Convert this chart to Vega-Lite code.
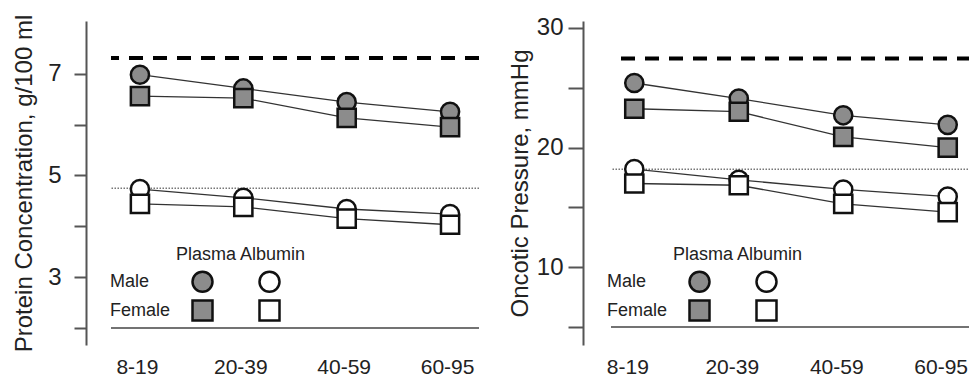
{
  "$schema": "https://vega.github.io/schema/vega-lite/v6.json",
  "background": "white",
  "padding": {"left": 12, "top": 14, "right": 0, "bottom": 0},
  "spacing": 132,
  "bounds": "flush",
  "config": {
    "view": {"stroke": null},
    "font": "Liberation Sans",
    "axis": {"grid": false, "labelFont": "Liberation Sans", "titleFont": "Liberation Sans", "labelColor": "#222", "titleColor": "#222", "titleFontWeight": "normal"},
    "legend": {
      "orient": "none", "legendY": 225, "direction": "horizontal",
      "columns": 2, "columnPadding": -41, "rowPadding": -2,
      "symbolSize": 400, "symbolStrokeColor": "#111", "symbolStrokeWidth": 2.5, "symbolOffset": 15,
      "labelFont": "Liberation Sans", "labelFontSize": 18, "labelColor": "#222", "labelAlign": "left", "labelOffset": -104,
      "titleFont": "Liberation Sans", "titleFontSize": 18, "titleFontWeight": "normal", "titleColor": "#222", "titlePadding": 6, "titleAnchor": "start"
    }
  },
  "datasets": {
    "protein": [
      {"age": "8-19", "key": "Male Plasma", "value": 6.98},
      {"age": "20-39", "key": "Male Plasma", "value": 6.71},
      {"age": "40-59", "key": "Male Plasma", "value": 6.44},
      {"age": "60-95", "key": "Male Plasma", "value": 6.25},
      {"age": "8-19", "key": "Female Plasma", "value": 6.56},
      {"age": "20-39", "key": "Female Plasma", "value": 6.52},
      {"age": "40-59", "key": "Female Plasma", "value": 6.13},
      {"age": "60-95", "key": "Female Plasma", "value": 5.95},
      {"age": "8-19", "key": "Male Albumin", "value": 4.73},
      {"age": "20-39", "key": "Male Albumin", "value": 4.56},
      {"age": "40-59", "key": "Male Albumin", "value": 4.34},
      {"age": "60-95", "key": "Male Albumin", "value": 4.24},
      {"age": "8-19", "key": "Female Albumin", "value": 4.44},
      {"age": "20-39", "key": "Female Albumin", "value": 4.38},
      {"age": "40-59", "key": "Female Albumin", "value": 4.15},
      {"age": "60-95", "key": "Female Albumin", "value": 4.03}
    ],
    "oncotic": [
      {"age": "8-19", "key": "Male Plasma", "value": 25.4},
      {"age": "20-39", "key": "Male Plasma", "value": 24.1},
      {"age": "40-59", "key": "Male Plasma", "value": 22.7},
      {"age": "60-95", "key": "Male Plasma", "value": 21.9},
      {"age": "8-19", "key": "Female Plasma", "value": 23.25},
      {"age": "20-39", "key": "Female Plasma", "value": 23.0},
      {"age": "40-59", "key": "Female Plasma", "value": 20.9},
      {"age": "60-95", "key": "Female Plasma", "value": 20.0},
      {"age": "8-19", "key": "Male Albumin", "value": 18.2},
      {"age": "20-39", "key": "Male Albumin", "value": 17.3},
      {"age": "40-59", "key": "Male Albumin", "value": 16.5},
      {"age": "60-95", "key": "Male Albumin", "value": 15.9},
      {"age": "8-19", "key": "Female Albumin", "value": 17.0},
      {"age": "20-39", "key": "Female Albumin", "value": 16.85},
      {"age": "40-59", "key": "Female Albumin", "value": 15.3},
      {"age": "60-95", "key": "Female Albumin", "value": 14.6}
    ],
    "proteinRef": [
      {"line": "Plasma reference", "value": 7.31},
      {"line": "Albumin reference", "value": 4.75},
      {"line": "Baseline", "value": 2}
    ],
    "oncoticRef": [
      {"line": "Plasma reference", "value": 27.45},
      {"line": "Albumin reference", "value": 18.2},
      {"line": "Baseline", "value": 5}
    ]
  },
  "resolve": {"scale": {"x": "independent", "y": "independent"}, "legend": {"fill": "independent", "shape": "independent", "stroke": "independent"}},
  "hconcat": [
    {
      "width": 368,
      "height": 324,
      "layer": [
        {
          "data": {"name": "proteinRef"},
          "transform": [{"filter": "datum.line == 'Plasma reference'"}],
          "mark": {"type": "rule", "strokeDash": [14, 10], "strokeWidth": 4, "color": "#000"},
          "encoding": {"y": {"field": "value", "type": "quantitative", "scale": {"domain": [1.666, 8.036], "nice": false, "zero": false}}}
        },
        {
          "data": {"name": "proteinRef"},
          "transform": [{"filter": "datum.line == 'Albumin reference'"}],
          "mark": {"type": "rule", "strokeDash": [1.5, 1.5], "strokeWidth": 1.5, "color": "#777"},
          "encoding": {"y": {"field": "value", "type": "quantitative"}}
        },
        {
          "data": {"name": "proteinRef"},
          "transform": [{"filter": "datum.line == 'Baseline'"}],
          "mark": {"type": "rule", "strokeWidth": 1.5, "color": "#444"},
          "encoding": {"y": {"field": "value", "type": "quantitative"}}
        },
        {
          "data": {"name": "protein"},
          "mark": {"type": "line", "color": "#333", "strokeWidth": 1.3},
          "encoding": {
            "x": {"field": "age", "type": "ordinal"},
            "y": {"field": "value", "type": "quantitative"},
            "detail": {"field": "key"}
          }
        },
        {
          "data": {"name": "protein"},
          "mark": {"type": "point", "filled": true, "opacity": 1, "size": 330, "strokeWidth": 2.5},
          "encoding": {
            "x": {"field": "age", "type": "ordinal", "scale": {"type": "point", "domain": ["8-19", "20-39", "40-59", "60-95"], "padding": 0.28},
                  "axis": {"title": null, "domain": false, "ticks": false, "labelAngle": 0, "labelAlign": "center", "labelBaseline": "top", "labelFontSize": 21, "labelPadding": 11, "labelOffset": -3}},
            "y": {"field": "value", "type": "quantitative",
                  "axis": {"title": "Protein Concentration, g/100 ml", "values": [2, 3, 4, 5, 6, 7], "labelExpr": "datum.value % 2 == 1 ? datum.label : ''",
                           "offset": 25, "tickSize": 12, "tickWidth": 2, "tickColor": "#555", "domainColor": "#555", "domainWidth": 2,
                           "labelFontSize": 24, "labelPadding": 13, "titleFontSize": 24, "titlePadding": 11}},
            "shape": {"field": "key", "type": "nominal", "scale": {"domain": ["Male Plasma", "Male Albumin", "Female Plasma", "Female Albumin"], "range": ["circle", "circle", "square", "square"]},
                      "legend": {"title": "Plasma Albumin", "legendX": 65, "labelExpr": "datum.value == 'Male Plasma' ? 'Male' : datum.value == 'Female Plasma' ? 'Female' : ''"}},
            "fill": {"field": "key", "type": "nominal", "scale": {"domain": ["Male Plasma", "Male Albumin", "Female Plasma", "Female Albumin"], "range": ["#8c8c8c", "#ffffff", "#8c8c8c", "#ffffff"]},
                     "legend": {"title": "Plasma Albumin", "legendX": 65, "labelExpr": "datum.value == 'Male Plasma' ? 'Male' : datum.value == 'Female Plasma' ? 'Female' : ''"}},
            "stroke": {"field": "key", "type": "nominal", "scale": {"domain": ["Male Plasma", "Male Albumin", "Female Plasma", "Female Albumin"], "range": ["#111111", "#111111", "#111111", "#111111"]},
                     "legend": {"title": "Plasma Albumin", "legendX": 65, "labelExpr": "datum.value == 'Male Plasma' ? 'Male' : datum.value == 'Female Plasma' ? 'Female' : ''"}}
          }
        }
      ]
    },
    {
      "width": 360,
      "height": 324,
      "layer": [
        {
          "data": {"name": "oncoticRef"},
          "transform": [{"filter": "datum.line == 'Plasma reference'"}],
          "mark": {"type": "rule", "strokeDash": [14, 10], "strokeWidth": 4, "color": "#000"},
          "encoding": {"y": {"field": "value", "type": "quantitative", "scale": {"domain": [3.495, 30.585], "nice": false, "zero": false}}}
        },
        {
          "data": {"name": "oncoticRef"},
          "transform": [{"filter": "datum.line == 'Albumin reference'"}],
          "mark": {"type": "rule", "strokeDash": [1.5, 1.5], "strokeWidth": 1.5, "color": "#777"},
          "encoding": {"y": {"field": "value", "type": "quantitative"}}
        },
        {
          "data": {"name": "oncoticRef"},
          "transform": [{"filter": "datum.line == 'Baseline'"}],
          "mark": {"type": "rule", "strokeWidth": 1.5, "color": "#444"},
          "encoding": {"y": {"field": "value", "type": "quantitative"}}
        },
        {
          "data": {"name": "oncotic"},
          "mark": {"type": "line", "color": "#333", "strokeWidth": 1.3},
          "encoding": {
            "x": {"field": "age", "type": "ordinal"},
            "y": {"field": "value", "type": "quantitative"},
            "detail": {"field": "key"}
          }
        },
        {
          "data": {"name": "oncotic"},
          "mark": {"type": "point", "filled": true, "opacity": 1, "size": 330, "strokeWidth": 2.5},
          "encoding": {
            "x": {"field": "age", "type": "ordinal", "scale": {"type": "point", "domain": ["8-19", "20-39", "40-59", "60-95"], "padding": 0.223},
                  "axis": {"title": null, "domain": false, "ticks": false, "labelAngle": 0, "labelAlign": "center", "labelBaseline": "top", "labelFontSize": 21, "labelPadding": 11, "labelOffset": -7}},
            "y": {"field": "value", "type": "quantitative",
                  "axis": {"title": "Oncotic Pressure, mmHg", "values": [5, 10, 15, 20, 25, 30], "labelExpr": "datum.value % 10 == 0 ? datum.label : ''",
                           "offset": 28, "tickSize": 15, "tickWidth": 2, "tickColor": "#555", "domainColor": "#555", "domainWidth": 2,
                           "labelFontSize": 24, "labelPadding": 5, "titleFontSize": 24, "titlePadding": 4}},
            "shape": {"field": "key", "type": "nominal", "scale": {"domain": ["Male Plasma", "Male Albumin", "Female Plasma", "Female Albumin"], "range": ["circle", "circle", "square", "square"]},
                      "legend": {"title": "Plasma Albumin", "legendX": 62, "labelExpr": "datum.value == 'Male Plasma' ? 'Male' : datum.value == 'Female Plasma' ? 'Female' : ''"}},
            "fill": {"field": "key", "type": "nominal", "scale": {"domain": ["Male Plasma", "Male Albumin", "Female Plasma", "Female Albumin"], "range": ["#8c8c8c", "#ffffff", "#8c8c8c", "#ffffff"]},
                     "legend": {"title": "Plasma Albumin", "legendX": 62, "labelExpr": "datum.value == 'Male Plasma' ? 'Male' : datum.value == 'Female Plasma' ? 'Female' : ''"}},
            "stroke": {"field": "key", "type": "nominal", "scale": {"domain": ["Male Plasma", "Male Albumin", "Female Plasma", "Female Albumin"], "range": ["#111111", "#111111", "#111111", "#111111"]},
                     "legend": {"title": "Plasma Albumin", "legendX": 62, "labelExpr": "datum.value == 'Male Plasma' ? 'Male' : datum.value == 'Female Plasma' ? 'Female' : ''"}}
          }
        }
      ]
    }
  ]
}
